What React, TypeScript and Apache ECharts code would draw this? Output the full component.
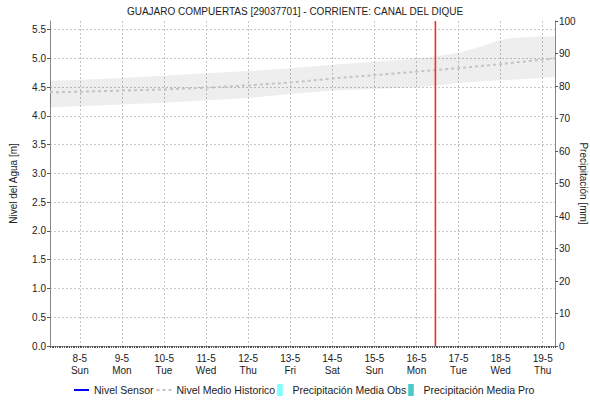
import React, { useEffect, useRef } from 'react';
import * as echarts from 'echarts';

const chartTitle = 'GUAJARO COMPUERTAS [29037701] - CORRIENTE: CANAL DEL DIQUE';
const tickDays = [8, 9, 10, 11, 12, 13, 14, 15, 16, 17, 18, 19];
const weekdays = ['Sun', 'Mon', 'Tue', 'Wed', 'Thu', 'Fri', 'Sat', 'Sun', 'Mon', 'Tue', 'Wed', 'Thu'];
const monthLabel = '5';

const bandX = [7.2917, 8, 9, 10, 11, 12, 13, 14, 15, 16, 16.5, 17, 17.5, 18, 18.3, 19, 19.2917];
const bandLower = [4.15, 4.17, 4.2, 4.23, 4.27, 4.31, 4.38, 4.44, 4.47, 4.5, 4.53, 4.57, 4.6, 4.62, 4.63, 4.66, 4.68];
const bandUpper = [4.61, 4.63, 4.66, 4.7, 4.74, 4.78, 4.83, 4.89, 4.94, 5.0, 5.04, 5.1, 5.2, 5.32, 5.36, 5.38, 5.38];

const meanX = [7.2917, 8, 9, 10, 11, 12, 13, 14, 15, 16, 16.5, 17, 18, 19, 19.2917];
const meanLevel = [4.41, 4.42, 4.44, 4.46, 4.49, 4.53, 4.58, 4.65, 4.71, 4.77, 4.8, 4.83, 4.9, 4.98, 5.0];

const sensorLevel: number[][] = [];
const precipObs: number[][] = [];
const precipPro: number[][] = [];

const nowDay = 16.45;
const xMin = 7.2917;
const xMax = 19.2917;
const yMin = 0;
const yMax = 5.65;

const FONT = 'Liberation Sans, Arial, sans-serif';
const RED = '#ee3030';

export default function App() {
  const ref = useRef<HTMLDivElement>(null);
  useEffect(() => {
    document.body.style.margin = '0';
    const chart = echarts.init(ref.current!, null, { renderer: 'svg' });
    const option: any = {
      animation: false,
      backgroundColor: '#fff',
      textStyle: { fontFamily: FONT },
      title: {
        text: chartTitle,
        left: 'center',
        top: 1,
        textStyle: { fontSize: 10, fontWeight: 'normal', color: '#222', fontFamily: FONT },
      },
      legend: {
        left: 68,
        top: 379,
        itemWidth: 15,
        itemHeight: 12,
        itemGap: 2,
        textStyle: { fontSize: 10.5, color: '#222', fontFamily: FONT },
        data: [
          { name: 'Nivel Sensor', itemStyle: { opacity: 0 } },
          { name: 'Nivel Medio Historico', itemStyle: { opacity: 0 } },
          { name: 'Precipitación Media Obs', icon: 'path://M0,0h6v13h-6z' },
          { name: 'Precipitación Media Pro', icon: 'path://M0,0h6v13h-6z' },
        ],
      },
      grid: { left: 50, right: 35, top: 21, bottom: 56, containLabel: false, outerBoundsMode: 'none' },
      xAxis: {
        type: 'value',
        min: xMin,
        max: xMax,
        splitNumber: 12,
        minInterval: 1,
        maxInterval: 1,
        axisLine: { show: true, lineStyle: { color: '#999', width: 1 } },
        axisTick: { show: true, length: 2, lineStyle: { color: '#555' } },
        minorTick: { show: true, splitNumber: 24, length: 2, lineStyle: { color: '#555' } },
        axisLabel: {
          showMinLabel: false,
          showMaxLabel: false,
          fontSize: 10,
          color: '#222',
          lineHeight: 12,
          margin: 6,
          formatter: (v: number) => {
            const r = Math.round(v);
            if (Math.abs(v - r) > 1e-6) return '';
            const i = tickDays.indexOf(r);
            if (i < 0) return '';
            return `${r}-${monthLabel}\n${weekdays[i]}`;
          },
        },
        splitLine: {
          show: true,
          showMinLine: false,
          showMaxLine: false,
          lineStyle: { color: '#c4c4c4', type: [2, 2], width: 1 },
        },
      },
      yAxis: [
        {
          type: 'value',
          min: yMin,
          max: yMax,
          interval: 0.5,
          name: 'Nivel del Agua [m]',
          nameLocation: 'middle',
          nameGap: 32,
          nameMoveOverlap: false,
          nameTextStyle: { fontSize: 10, color: '#222', fontFamily: FONT },
          axisLine: { show: true, lineStyle: { color: '#888' } },
          axisTick: { show: true, length: 3, lineStyle: { color: '#555' } },
          axisLabel: {
            showMaxLabel: false,
            fontSize: 10,
            color: '#222',
            margin: 4,
            formatter: (v: number) => v.toFixed(1),
          },
          splitLine: {
            show: true,
            showMaxLine: false,
            lineStyle: { color: '#c4c4c4', type: [2, 2], width: 1 },
          },
        },
        {
          type: 'value',
          min: 0,
          max: 100,
          interval: 10,
          position: 'right',
          name: 'Precipitación [mm]',
          nameLocation: 'middle',
          nameRotate: -90,
          nameGap: 23,
          nameMoveOverlap: false,
          nameTextStyle: { fontSize: 10, color: '#222', fontFamily: FONT },
          axisLine: { show: true, lineStyle: { color: '#888' } },
          axisTick: { show: true, length: 3, lineStyle: { color: '#555' } },
          axisLabel: { fontSize: 10, color: '#222', margin: 4 },
          splitLine: { show: false },
        },
      ],
      series: [
        {
          name: 'band',
          type: 'custom',
          silent: true,
          z: 1,
          data: [[xMin, 0]],
          renderItem: (_params: any, api: any) => {
            const pts: number[][] = [];
            bandX.forEach((x, i) => pts.push(api.coord([x, bandUpper[i]])));
            for (let i = bandX.length - 1; i >= 0; i--) pts.push(api.coord([bandX[i], bandLower[i]]));
            return {
              type: 'polygon',
              shape: { points: pts },
              style: { fill: 'rgba(0,0,0,0.065)', stroke: 'none' },
            };
          },
        },
        {
          name: 'Nivel Sensor',
          type: 'line',
          symbol: 'none',
          lineStyle: { color: '#0000ff', width: 1.5 },
          itemStyle: { color: '#0000ff' },
          data: sensorLevel,
        },
        {
          name: 'Nivel Medio Historico',
          type: 'line',
          symbol: 'none',
          lineStyle: { color: '#c4c4c4', width: 2, type: [3, 3] },
          itemStyle: { color: '#c4c4c4' },
          data: meanX.map((x, i) => [x, meanLevel[i]]),
        },
        {
          name: 'now',
          type: 'custom',
          silent: true,
          z: 10,
          data: [[nowDay, yMin]],
          renderItem: (_params: any, api: any) => {
            const p0 = api.coord([nowDay, yMin]);
            const p1 = api.coord([nowDay, yMax]);
            return {
              type: 'line',
              shape: { x1: p0[0], y1: p0[1], x2: p1[0], y2: p1[1] },
              style: { stroke: RED, lineWidth: 1.6, fill: 'none' },
            };
          },
        },
        {
          name: 'Precipitación Media Obs',
          type: 'bar',
          yAxisIndex: 1,
          itemStyle: { color: '#80ffff' },
          data: precipObs,
        },
        {
          name: 'Precipitación Media Pro',
          type: 'bar',
          yAxisIndex: 1,
          itemStyle: { color: '#4cc8c8' },
          data: precipPro,
        },
      ],
    };
    chart.setOption(option);
    return () => chart.dispose();
  }, []);
  return <div ref={ref} style={{ width: 590, height: 402 }} />;
}
